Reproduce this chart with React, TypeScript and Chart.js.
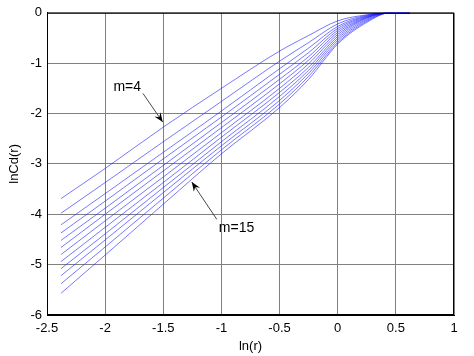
import React, { useEffect, useRef } from "react";
import { Chart, registerables } from "chart.js";

Chart.register(...registerables);

// ln(r) sample positions
const lnR = [-2.38, -2.0, -1.5, -1.0, -0.5, -0.25, 0, 0.25, 0.45, 0.62];

// lnCd(r) for embedding dimensions m = 4 .. 15
const m4 = [-3.69, -3.09, -2.27, -1.5, -0.76, -0.45, -0.16, -0.04, 0, 0];
const m5 = [-3.98, -3.37, -2.56, -1.76, -0.96, -0.59, -0.22, -0.05, 0, 0];
const m6 = [-4.21, -3.59, -2.77, -1.95, -1.11, -0.7, -0.27, -0.06, 0, 0];
const m7 = [-4.37, -3.74, -2.9, -2.07, -1.22, -0.79, -0.31, -0.07, 0, 0];
const m8 = [-4.52, -3.88, -3.03, -2.18, -1.32, -0.87, -0.35, -0.08, 0, 0];
const m9 = [-4.66, -4.0, -3.14, -2.28, -1.41, -0.94, -0.39, -0.09, 0, 0];
const m10 = [-4.8, -4.13, -3.26, -2.38, -1.5, -1.01, -0.43, -0.1, 0, 0];
const m11 = [-4.94, -4.26, -3.37, -2.47, -1.58, -1.08, -0.47, -0.11, 0, 0];
const m12 = [-5.08, -4.39, -3.47, -2.56, -1.66, -1.14, -0.51, -0.13, 0, 0];
const m13 = [-5.22, -4.51, -3.57, -2.64, -1.74, -1.2, -0.55, -0.15, 0, 0];
const m14 = [-5.38, -4.65, -3.68, -2.72, -1.81, -1.26, -0.59, -0.17, 0, 0];
const m15 = [-5.57, -4.81, -3.8, -2.8, -1.88, -1.32, -0.62, -0.19, 0, 0];

const seriesList = [m4, m5, m6, m7, m8, m9, m10, m11, m12, m13, m14, m15];
const seriesNames = ["m=4", "m=5", "m=6", "m=7", "m=8", "m=9", "m=10", "m=11", "m=12", "m=13", "m=14", "m=15"];

const xTicks = [-2.5, -2, -1.5, -1, -0.5, 0, 0.5, 1];
const yTicks = [-6, -5, -4, -3, -2, -1, 0];

// annotations (data coordinates): label position, arrow start, arrow tip
const annoLabels = ["m=4", "m=15"];
const annoText = [[-1.81, -1.47], [-0.87, -4.27]];
const annoFrom = [[-1.675, -1.6], [-1.04, -4.1]];
const annoTo = [[-1.505, -2.17], [-1.255, -3.36]];

const annotationPlugin = {
  id: "annos",
  afterDatasetsDraw(chart: any) {
    const { ctx, scales, chartArea } = chart;
    const xs = scales.x;
    const ys = scales.y;
    ctx.save();
    ctx.strokeStyle = "#000";
    ctx.lineWidth = 1;
    ctx.strokeRect(chartArea.left + 0.5, chartArea.top + 0.5, chartArea.right - chartArea.left - 1, chartArea.bottom - chartArea.top - 1);
    ctx.font = "14px 'Liberation Sans', Arial, sans-serif";
    ctx.fillStyle = "#000";
    ctx.textAlign = "center";
    ctx.textBaseline = "middle";
    for (let i = 0; i < annoLabels.length; i++) {
      const tx = xs.getPixelForValue(annoText[i][0]);
      const ty = ys.getPixelForValue(annoText[i][1]);
      ctx.fillStyle = "#000";
      ctx.fillText(annoLabels[i], tx, ty);
      const x1 = xs.getPixelForValue(annoFrom[i][0]);
      const y1 = ys.getPixelForValue(annoFrom[i][1]);
      const x2 = xs.getPixelForValue(annoTo[i][0]);
      const y2 = ys.getPixelForValue(annoTo[i][1]);
      ctx.strokeStyle = "#333";
      ctx.lineWidth = 0.9;
      ctx.beginPath();
      ctx.moveTo(x1, y1);
      ctx.lineTo(x2, y2);
      ctx.stroke();
      const ang = Math.atan2(y2 - y1, x2 - x1);
      const len = 10;
      const wid = 0.38;
      ctx.beginPath();
      ctx.moveTo(x2, y2);
      ctx.lineTo(x2 - len * Math.cos(ang - wid), y2 - len * Math.sin(ang - wid));
      ctx.lineTo(x2 - len * 0.6 * Math.cos(ang), y2 - len * 0.6 * Math.sin(ang));
      ctx.lineTo(x2 - len * Math.cos(ang + wid), y2 - len * Math.sin(ang + wid));
      ctx.closePath();
      ctx.fillStyle = "#000";
      ctx.fill();
    }
    ctx.restore();
  },
};

const fmt = (v: number) => {
  const n = Number(Number(v).toFixed(1));
  return n === 0 ? "0" : String(n);
};

export default function App() {
  const ref = useRef<HTMLCanvasElement | null>(null);
  useEffect(() => {
    if (!ref.current) return;
    const datasets = seriesList.map((arr, i) => ({
      label: seriesNames[i],
      data: arr.map((y, j) => ({ x: lnR[j], y })),
      borderColor: "rgba(30,30,255,0.6)",
      borderWidth: 1,
      pointRadius: 0,
      fill: false,
      cubicInterpolationMode: "monotone" as const,
    }));
    const font = { family: "'Liberation Sans', Arial, sans-serif", size: 13 };
    const chart = new Chart(ref.current, {
      type: "line",
      data: { datasets },
      options: {
        animation: false,
        responsive: false,
        maintainAspectRatio: false,
        layout: { padding: { top: 7, right: 20, left: 0, bottom: 0 } },
        plugins: { legend: { display: false }, tooltip: { enabled: false } },
        scales: {
          x: {
            type: "linear",
            min: -2.5,
            max: 1,
            afterBuildTicks: (s: any) => {
              s.ticks = xTicks.map((v) => ({ value: v }));
            },
            afterFit: (s: any) => {
              s.height = 41;
            },
            ticks: { color: "#000", font, padding: 6, callback: (v: any) => fmt(v), maxRotation: 0 },
            grid: { color: "#808080", lineWidth: 1, drawTicks: false },
            border: { color: "#000" },
            title: { display: true, text: "ln(r)", color: "#000", font, padding: { top: 0, bottom: 2 } },
          },
          y: {
            type: "linear",
            min: -6,
            max: 0,
            afterBuildTicks: (s: any) => {
              s.ticks = yTicks.map((v) => ({ value: v }));
            },
            afterFit: (s: any) => {
              s.width = 47;
            },
            ticks: { color: "#000", font, padding: 5, callback: (v: any) => fmt(v) },
            grid: { color: "#808080", lineWidth: 1, drawTicks: false },
            border: { color: "#000" },
            title: { display: true, text: "lnCd(r)", color: "#000", font, padding: { top: 7, bottom: 0 } },
          },
        },
      },
      plugins: [annotationPlugin],
    });
    return () => chart.destroy();
  }, []);
  return (
    <div style={{ position: "fixed", left: 0, top: 0, width: 474, height: 356, background: "#fff" }}>
      <canvas ref={ref} width={474} height={356} style={{ width: 474, height: 356 }} />
    </div>
  );
}
